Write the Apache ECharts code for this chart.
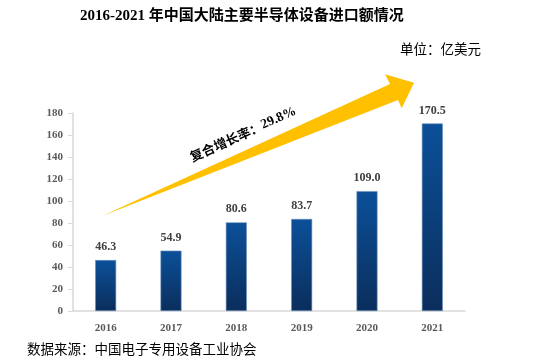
<!DOCTYPE html>
<html>
<head>
<meta charset="utf-8">
<script src="https://cdn.jsdelivr.net/npm/echarts@6/dist/echarts.min.js"></script>
<style>
html,body{margin:0;padding:0;background:#fff;}
#c{width:536px;height:364px;}
</style>
</head>
<body>
<div id="c"></div>
<script>
const categories = ['2016','2017','2018','2019','2020','2021'];
const importValues = [46.3, 54.9, 80.6, 83.7, 109.0, 170.5];
const yTicks = [0, 20, 40, 60, 80, 100, 120, 140, 160, 180];
const titleText = '2016-2021 年中国大陆主要半导体设备进口额情况';
const unitText = '单位：亿美元';
const sourceText = '数据来源：中国电子专用设备工业协会';
const cagrLabel = '复合增长率：';
const cagrValue = '29.8%';

const serif = "'Liberation Serif','Noto Sans CJK SC',serif";
const chart = echarts.init(document.getElementById('c'), null, {renderer: 'canvas'});
chart.setOption({
  backgroundColor: '#fff',
  animation: false,
  grid: {left: 73, right: 71, top: 113, bottom: 53},
  xAxis: {
    type: 'category',
    data: categories,
    axisLine: {lineStyle: {color: '#D9D9D9', width: 1.5}},
    axisTick: {show: false},
    axisLabel: {color: '#595959', fontFamily: serif, fontWeight: 'bold', fontSize: 11, margin: 12}
  },
  yAxis: {
    type: 'value',
    min: yTicks[0],
    max: yTicks[yTicks.length - 1],
    interval: 20,
    axisLine: {show: true, lineStyle: {color: '#D9D9D9', width: 1.5}},
    axisTick: {show: true, length: 5, lineStyle: {color: '#D9D9D9'}},
    splitLine: {show: false},
    axisLabel: {color: '#595959', fontFamily: serif, fontWeight: 'bold', fontSize: 11, margin: 10}
  },
  series: [{
    type: 'bar',
    data: importValues,
    barWidth: 21,
    itemStyle: {
      color: new echarts.graphic.LinearGradient(0, 0, 0, 1, [
        {offset: 0, color: '#0B5099'},
        {offset: 1, color: '#0B2E5C'}
      ]),
      borderColor: '#6F93BF',
      borderWidth: 0.6
    },
    label: {
      show: true,
      position: 'top',
      distance: 7,
      formatter: p => p.value.toFixed(1),
      color: '#404040',
      fontFamily: serif,
      fontWeight: 'bold',
      fontSize: 12
    }
  }],
  graphic: [
    {type: 'text', left: 80, top: 9,
     style: {text: titleText, fontFamily: serif, fontWeight: 'bold', fontSize: 15, fill: '#000'}},
    {type: 'text', left: 400, top: 42,
     style: {text: unitText, fontFamily: "'Noto Sans CJK SC',serif", fontSize: 13.5, fill: '#000'}},
    {type: 'text', left: 27, top: 342,
     style: {text: sourceText, fontFamily: "'Noto Sans CJK SC',serif", fontSize: 13.5, fill: '#000'}},
    {type: 'polygon', z: 10,
     shape: {points: [[102.7,215.7],[390,84],[385,74.3],[414,82.7],[401.7,108.3],[398,100]]},
     style: {fill: '#FFC000'}},
    {type: 'text', z: 11, x: 243, y: 134, rotation: 24 * Math.PI / 180,
     style: {text: '{a|' + cagrLabel + '}{b|' + cagrValue + '}', align: 'center', verticalAlign: 'middle',
             rich: {
               a: {fontFamily: "'Noto Sans CJK SC',serif", fontWeight: 'bold', fontSize: 13, fill: '#000'},
               b: {fontFamily: "'Liberation Serif',serif", fontWeight: 'bold', fontSize: 13.5, fill: '#000'}
             }}}
  ]
});
</script>
</body>
</html>
